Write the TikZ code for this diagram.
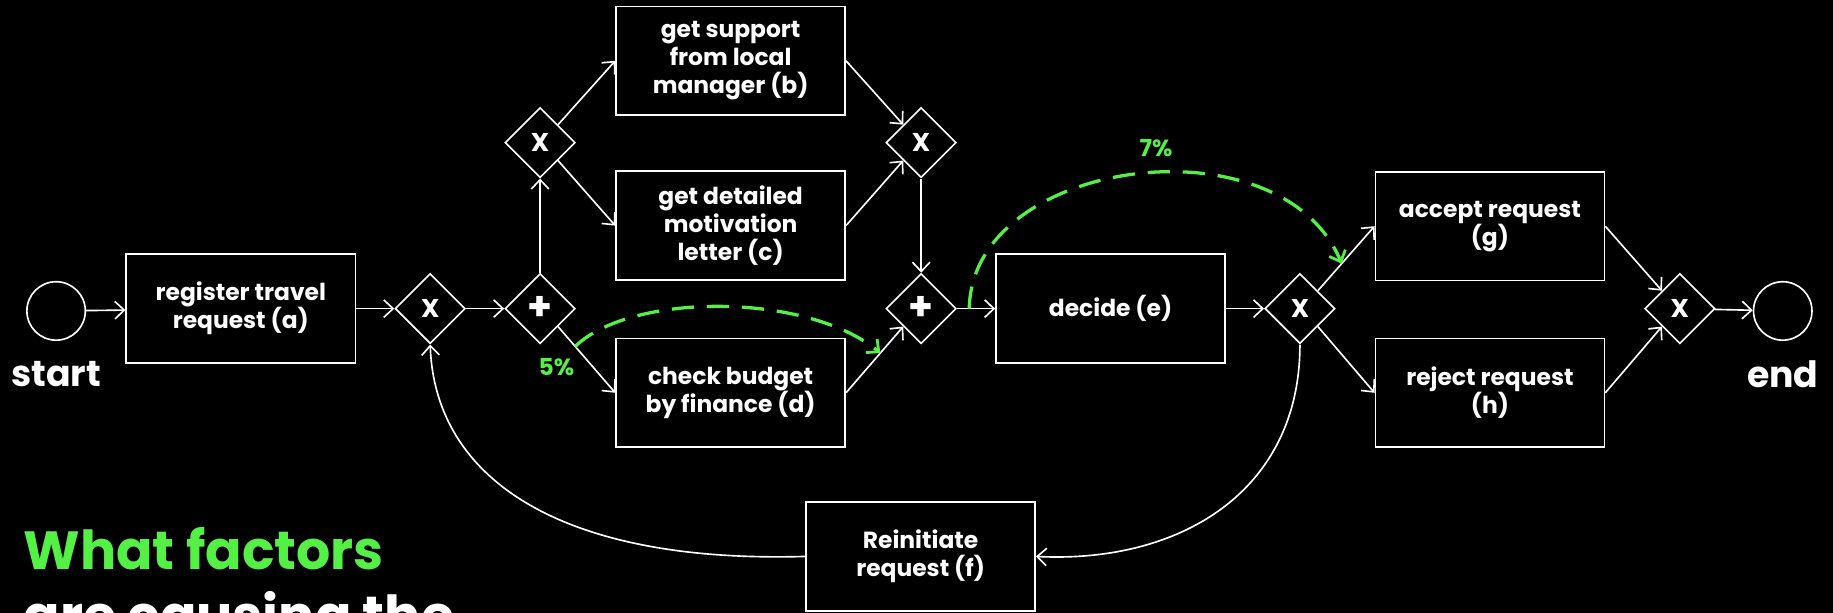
\documentclass[tikz,border=0pt]{standalone}
\usepackage{fontspec}
\setmainfont{Poppins}
\usetikzlibrary{shapes.geometric,arrows.meta,calc}
\definecolor{hl}{RGB}{85,240,70}

\begin{document}
\begin{tikzpicture}[x=1pt,y=-1pt,
  flow/.style={draw=white, line width=1.4pt, -{Straight Barb[length=8pt,width=15pt,line width=1.4pt]}},
  hint/.style={draw=hl, line width=2.8pt, dash pattern=on 19pt off 11pt,
    -{Straight Barb[length=8pt,width=15pt,line width=2.4pt]}},
  task/.style={draw=white, line width=1.4pt, text=white, fill=black,
    minimum width=196pt, minimum height=93pt, inner sep=0pt, align=center,
    font=\fontsize{20}{24}\selectfont\bfseries},
  gate/.style={diamond, draw=white, line width=1.4pt, text=white, fill=black,
    minimum width=60pt, minimum height=60pt, inner sep=0pt,
    font=\fontsize{22}{22}\selectfont\bfseries},
  pgate/.style={gate, font=\fontsize{34}{34}\selectfont\bfseries},
  event/.style={circle, draw=white, line width=1.4pt, minimum size=50pt, inner sep=0pt},
  evlabel/.style={text=white, font=\fontsize{31}{31}\selectfont\bfseries},
  pct/.style={text=hl, font=\fontsize{20}{20}\selectfont\bfseries}
]
\useasboundingbox (0,0) rectangle (1568,524);
\clip (0,0) rectangle (1568,524);
\fill[black] (0,0) rectangle (1568,524);

% events
\node[event] (start) at (48,266) {};
\node[event] (end) at (1525,266) {};
\node[evlabel] (startlbl) at (48,320) {start};
\node[evlabel] (endlbl) at (1525,320) {end};

% tasks
\node[task] (a) at (206,264) {register travel\\request (a)};
\node[task] (b) at (625,52) {get support\\from local\\manager (b)};
\node[task] (c) at (625,193) {get detailed\\motivation\\letter (c)};
\node[task] (d) at (625,336) {check budget\\by finance (d)};
\node[task] (e) at (950,264) {decide (e)};
\node[task] (g) at (1274.5,193.5) {accept request\\(g)};
\node[task] (h) at (1274.5,336) {reject request\\(h)};
\node[task] (f) at (787.5,476) {Reinitiate\\request (f)};

% gateways
\node[gate]  (x1) at (368,264) {X};
\node[pgate] (p1) at (462,264) {+};
\node[gate]  (x2) at (462,122) {X};
\node[gate]  (x3) at (788,122) {X};
\node[pgate] (p2) at (788,264) {+};
\node[gate]  (x4) at (1112,264) {X};
\node[gate]  (x5) at (1437,264) {X};

% sequence flows
\draw[flow] (start) -- (a);
\draw[flow] (a) -- (x1);
\draw[flow] (x1) -- (p1);
\draw[flow] (p1) -- (x2);
\draw[flow] (x2.north east) -- (b.west);
\draw[flow] (x2.south east) -- (c.west);
\draw[flow] (p1.south east) -- (d.west);
\draw[flow] (b.east) -- (x3.north west);
\draw[flow] (c.east) -- (x3.south west);
\draw[flow] (x3) -- (p2);
\draw[flow] (d.east) -- (p2.south west);
\draw[flow] (p2) -- (e);
\draw[flow] (e) -- (x4);
\draw[flow] (x4.north east) -- (g.west);
\draw[flow] (x4.south east) -- (h.west);
\draw[flow] (g.east) -- (x5.north west);
\draw[flow] (h.east) -- (x5.south west);
\draw[flow] (x5) -- (end);

% rework loop
\draw[flow] (x4.south) .. controls (1112,420) and (1010,482) .. (f.east);
\draw[flow] (f.west) .. controls (480,482) and (372,410) .. (x1.south);

% highlighted shortcuts
\coordinate (s5) at ($(p1.south east)!0.3!(d.west)$);
\coordinate (t5) at ($(d.east)!0.6!(p2.south west)$);
\draw[hint] (s5) .. controls (540,250) and (690,250) .. (t5);
\node[pct] (l5) at (476,314) {5\%};

\coordinate (s7) at ($(p2.east)!0.32!(e.west)$);
\coordinate (t7) at ($(x4.north east)!0.42!(g.west)$);
\draw[hint] (s7) .. controls ($(s7)+(2,-129)$) and (1095,100) .. (t7);
\node[pct] (l7) at (989,127) {7\%};

% headline
\node[anchor=base west, inner sep=0pt, text=hl, font=\fontsize{46}{46}\selectfont\bfseries] (q1) at (20,487) {What factors};
\node[anchor=base west, inner sep=0pt, text=white, font=\fontsize{46}{46}\selectfont\bfseries] (q2) at (20,543) {are causing the};
\end{tikzpicture}
\end{document}
